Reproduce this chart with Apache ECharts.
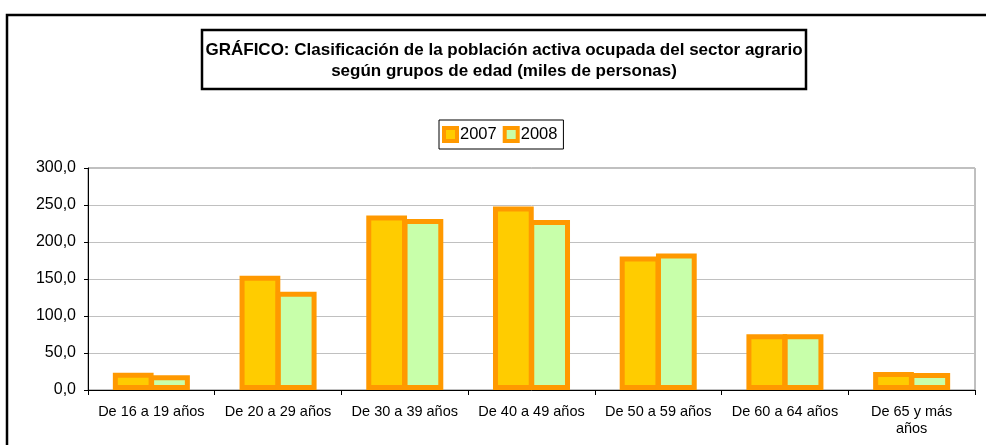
<!DOCTYPE html>
<html>
<head>
    <meta charset="UTF-8">
    <title>Sector agrario</title>
    <style type="text/css">
        body { margin: 0; background: #fff; }
        #mychart { width: 986px; height: 445px; }
    </style>
</head>
<body>
<div id="mychart"></div>
<script src="https://cdn.jsdelivr.net/npm/echarts@6/dist/echarts.min.js"></script>
<script>
    // grupos de edad
    var grupos = ['De 16 a 19 años', 'De 20 a 29 años', 'De 30 a 39 años', 'De 40 a 49 años',
        'De 50 a 59 años', 'De 60 a 64 años', 'De 65 y más\naños'];
    var anios = ['2007', '2008'];
    // miles de personas
    var datos2007 = [23.3, 154.3, 235.8, 247.9, 180.3, 75.3, 24.2];
    var datos2008 = [19.8, 132.8, 231.0, 229.6, 184.3, 75.3, 22.9];
    var ejeY = {min: 0, max: 300, interval: 50};
    var titulo = ['GRÁFICO: Clasificación de la población activa ocupada del sector agrario',
        'según grupos de edad (miles de personas)'];

    var myChart = echarts.init(document.getElementById('mychart'));

    var coma = function (v) {
        return v.toFixed(1).replace('.', ',');
    };
    var fuente = 'Arial, "Liberation Sans", sans-serif';

    option = {
        animation: false,
        textStyle: {fontFamily: fuente},
        graphic: [
            // marco exterior
            {
                type: 'rect', z: 0,
                shape: {x: 7, y: 15, width: 1100, height: 600},
                style: {fill: null, stroke: '#000', lineWidth: 2.5}
            },
            // caja del titulo
            {
                type: 'rect', z: 0,
                shape: {x: 202, y: 30, width: 604, height: 59},
                style: {fill: '#fff', stroke: '#000', lineWidth: 2.5}
            },
            {
                type: 'text', z: 1,
                style: {
                    x: 504, y: 50.5, text: titulo[0],
                    font: 'bold 17px ' + fuente,
                    fill: '#000', align: 'center', verticalAlign: 'middle'
                }
            },
            {
                type: 'text', z: 1,
                style: {
                    x: 504, y: 71.5, text: titulo[1],
                    font: 'bold 17px ' + fuente,
                    fill: '#000', align: 'center', verticalAlign: 'middle'
                }
            }
        ],
        legend: {
            data: anios,
            left: 439, top: 120,
            padding: [6, 6, 6, 3],
            itemGap: 6,
            itemWidth: 13, itemHeight: 13,
            icon: 'rect',
            itemStyle: {borderWidth: 4, borderColor: '#ff9900'},
            borderColor: '#000', borderWidth: 1,
            textStyle: {color: '#000', fontSize: 16.5, padding: [0, 0, 0, -2]}
        },
        grid: {
            left: 88, right: 11, top: 168, bottom: 55,
            show: true, borderColor: '#808080', borderWidth: 1
        },
        xAxis: {
            type: 'category',
            data: grupos,
            axisLine: {lineStyle: {color: '#000', width: 1}},
            axisTick: {show: true, length: 5, lineStyle: {color: '#000'}},
            axisLabel: {color: '#000', fontSize: 14.5, margin: 13, lineHeight: 17, interval: 0}
        },
        yAxis: {
            type: 'value',
            min: ejeY.min, max: ejeY.max, interval: ejeY.interval,
            axisLine: {show: true, lineStyle: {color: '#000', width: 1}},
            axisTick: {show: true, length: 4, lineStyle: {color: '#000'}},
            splitLine: {lineStyle: {color: '#c0c0c0', width: 1}},
            axisLabel: {color: '#000', fontSize: 16, margin: 12, formatter: coma}
        },
        series: [
            {
                name: anios[0], type: 'bar', data: datos2007,
                barWidth: 40.75, barGap: '-11%',
                itemStyle: {color: '#ffcc00', borderColor: '#ff9900', borderWidth: 5}
            },
            {
                name: anios[1], type: 'bar', data: datos2008,
                barWidth: 40.75, barGap: '-11%',
                itemStyle: {color: '#c8ffaa', borderColor: '#ff9900', borderWidth: 5}
            }
        ]
    };

    myChart.setOption(option);
</script>
</body>
</html>
